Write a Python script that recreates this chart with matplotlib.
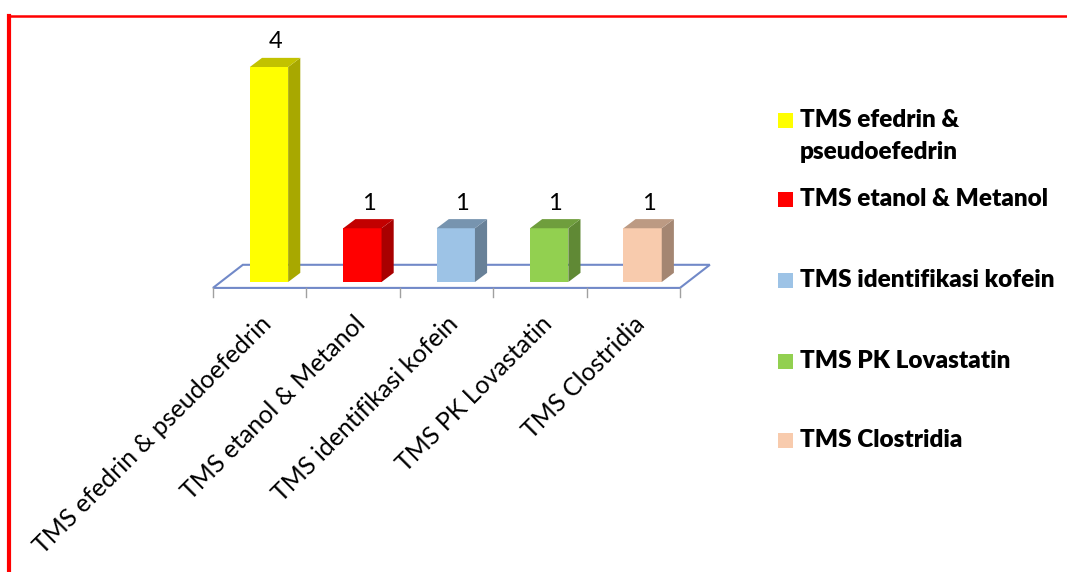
import numpy as np
import matplotlib
matplotlib.use("Agg")
import matplotlib.pyplot as plt
from matplotlib.patches import Polygon, Rectangle
from matplotlib.lines import Line2D
from matplotlib.colors import to_rgb

categories = ["TMS efedrin & pseudoefedrin", "TMS etanol & Metanol",
              "TMS identifikasi kofein", "TMS PK Lovastatin", "TMS Clostridia"]
legend_labels = ["TMS efedrin &\npseudoefedrin", "TMS etanol & Metanol",
                 "TMS identifikasi kofein", "TMS PK Lovastatin", "TMS Clostridia"]
values = [4, 1, 1, 1, 1]
colors = ["#FFFF00", "#FF0000", "#9DC3E6", "#92D050", "#F8CBAD"]

plt.rcParams['font.family'] = ['Lato', 'DejaVu Sans']

W, H = 1067, 572
fig = plt.figure(figsize=(W / 100, H / 100), dpi=100)

# axes placed in pixel space: x unit = one category slot, y unit = one count
px_left, px_right, py_top, py_bot = 200, 730, 30, 300
ax = fig.add_axes([px_left / W, 1 - py_bot / H, (px_right - px_left) / W, (py_bot - py_top) / H])
ax.set_xlim((px_left - 269) / 93.4, (px_right - 269) / 93.4)
ax.set_ylim((282 - py_bot) / 53.75, (282 - py_top) / 53.75)
ax.axis("off")

x = np.arange(len(values))
bar_w = 0.41
dx, dy = 0.13, 0.17          # fake 3D depth offset
floor_l, floor_r = -0.6, len(values) - 0.6
floor_front, floor_back = -0.11, 0.32
floor_shift = 0.32

# floor
floor_col = "#7189C8"
ax.add_patch(Polygon([(floor_l, floor_front), (floor_r, floor_front),
                      (floor_r + floor_shift, floor_back), (floor_l + floor_shift, floor_back)],
                     closed=True, fill=False, edgecolor=floor_col, lw=1.5, zorder=1))
for k in range(len(values) + 1):
    ax.plot([floor_l + k, floor_l + k], [floor_front, floor_front - 0.17],
            color="#A0A0A0", lw=1, zorder=1, clip_on=False)

# bars
for xi, v, c in zip(x, values, colors):
    rgb = np.array(to_rgb(c))
    left, right = xi - bar_w / 2, xi + bar_w / 2
    ax.bar(xi, v, width=bar_w, color=c, edgecolor="none", zorder=3)
    ax.add_patch(Polygon([(right, 0), (right + dx, dy), (right + dx, v + dy), (right, v)],
                         closed=True, facecolor=rgb * 0.66, edgecolor="none", zorder=3))
    ax.add_patch(Polygon([(left, v), (right, v), (right + dx, v + dy), (left + dx, v + dy)],
                         closed=True, facecolor=rgb * 0.76, edgecolor="none", zorder=3))
    ax.text(xi + dx / 2, v + dy + 0.1, str(v), ha="center", va="bottom",
            fontsize=17, color="black")

# category labels
for k, name in enumerate(categories):
    ax.text(floor_l + k + 0.5, floor_front - 0.45, name, rotation=45,
            rotation_mode="anchor", ha="right", va="top", fontsize=18, clip_on=False)

# legend
leg_y = [120, 199, 280, 361, 440]
for yy, lab, c in zip(leg_y, legend_labels, colors):
    fig.patches.append(Rectangle((778 / W, 1 - (yy + 8) / H), 15 / W, 15 / H,
                                 transform=fig.transFigure, facecolor=c, edgecolor="none"))
    for j, line in enumerate(lab.split("\n")):
        fig.text(800 / W, 1 - (yy + 7 + 32 * j) / H, line, ha="left", va="baseline",
                 fontsize=17.5, fontweight="heavy")

# red frame
fig.add_artist(Line2D([9 / W, 9 / W], [0, 1 - 16 / H], color="#FF0000", lw=3,
                      transform=fig.transFigure))
fig.add_artist(Line2D([9 / W, 1], [1 - 16 / H, 1 - 16 / H], color="#FF0000", lw=1.8,
                      transform=fig.transFigure))

fig.savefig("out.png", dpi=100)
